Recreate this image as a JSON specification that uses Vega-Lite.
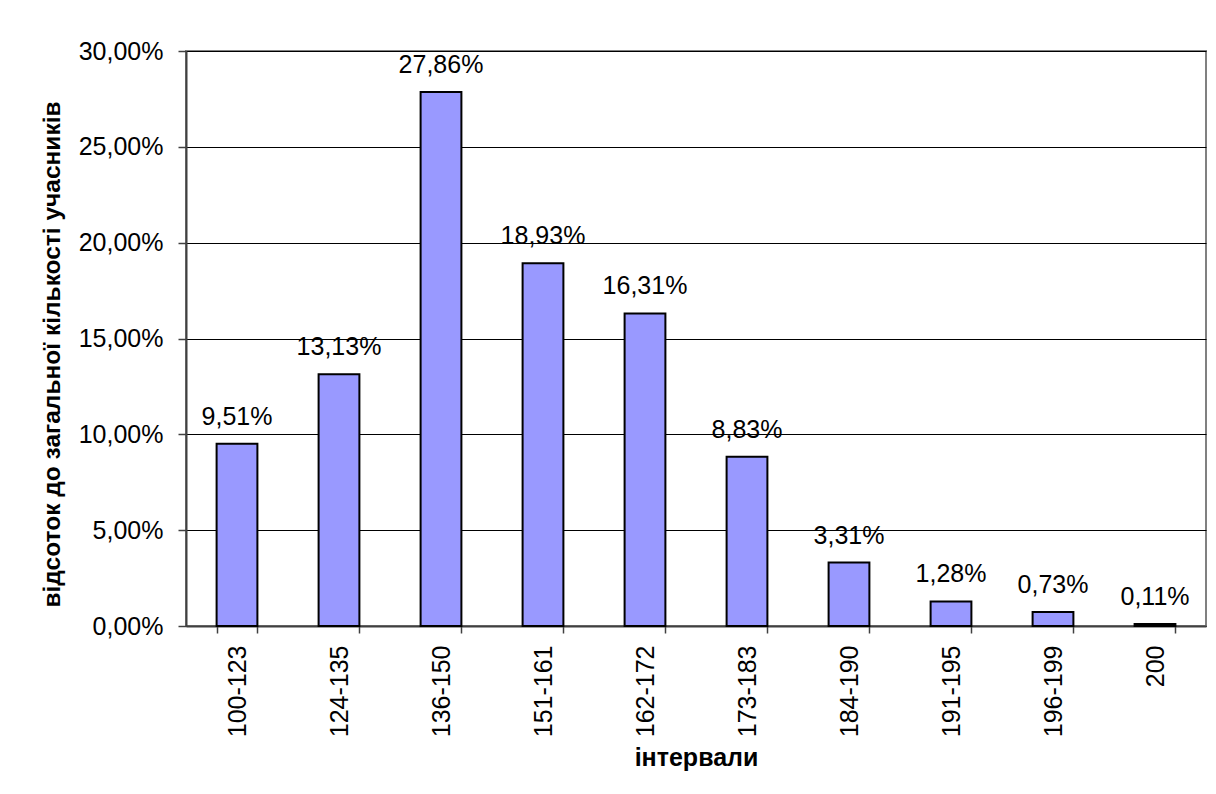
{
  "$schema": "https://vega.github.io/schema/vega-lite/v6.json",
  "width": 1020,
  "height": 575,
  "autosize": {"type": "none"},
  "padding": {"left": 186, "top": 51, "right": 10, "bottom": 168},
  "background": "white",
  "config": {
    "locale": {"number": {"decimal": ",", "thousands": " ", "grouping": [3], "currency": ["", ""]}},
    "font": "Liberation Sans",
    "view": {"stroke": "#808080", "strokeWidth": 2}
  },
  "data": {
    "values": [
      {"interval": "100-123", "share": 0.0951},
      {"interval": "124-135", "share": 0.1313},
      {"interval": "136-150", "share": 0.2786},
      {"interval": "151-161", "share": 0.1893},
      {"interval": "162-172", "share": 0.1631},
      {"interval": "173-183", "share": 0.0883},
      {"interval": "184-190", "share": 0.0331},
      {"interval": "191-195", "share": 0.0128},
      {"interval": "196-199", "share": 0.0073},
      {"interval": "200", "share": 0.0011}
    ]
  },
  "encoding": {
    "x": {
      "field": "interval", "type": "nominal", "sort": null,
      "scale": {"paddingInner": 0.6, "paddingOuter": 0.3},
      "axis": {
        "title": "інтервали",
        "titleFont": "Liberation Sans", "titleFontSize": 25, "titleFontWeight": "bold", "titleColor": "black",
        "titlePadding": 9,
        "labelAngle": -90, "labelFontSize": 25, "labelColor": "black", "labelPadding": 12,
        "labelFont": "Liberation Sans",
        "tickBand": "extent", "tickSize": 7, "tickColor": "#404040", "tickWidth": 1.5,
        "domainColor": "#404040", "domainWidth": 2, "grid": false
      }
    },
    "y": {
      "field": "share", "type": "quantitative",
      "scale": {"domain": [0, 0.3], "nice": false},
      "axis": {
        "title": "відсоток до загальної кількості учасників",
        "titleFont": "Liberation Sans", "titleFontSize": 24.5, "titleFontWeight": "bold", "titleColor": "black",
        "titlePadding": 14, "titleY": 303,
        "format": ".2%", "values": [0, 0.05, 0.1, 0.15, 0.2, 0.25, 0.3],
        "labelFontSize": 25, "labelColor": "black", "labelPadding": 15, "labelFont": "Liberation Sans",
        "tickSize": 8, "tickColor": "#404040", "tickWidth": 1.5,
        "domainColor": "#404040", "domainWidth": 2,
        "grid": true, "gridColor": "black", "gridWidth": 1
      }
    }
  },
  "layer": [
    {
      "mark": {"type": "bar", "fill": "#9999FF", "stroke": "black", "strokeWidth": 2}
    },
    {
      "mark": {"type": "text", "fontSize": 25, "baseline": "alphabetic", "dy": -19, "color": "black", "font": "Liberation Sans"},
      "encoding": {
        "text": {"field": "share", "type": "quantitative", "format": ".2%"}
      }
    }
  ]
}
